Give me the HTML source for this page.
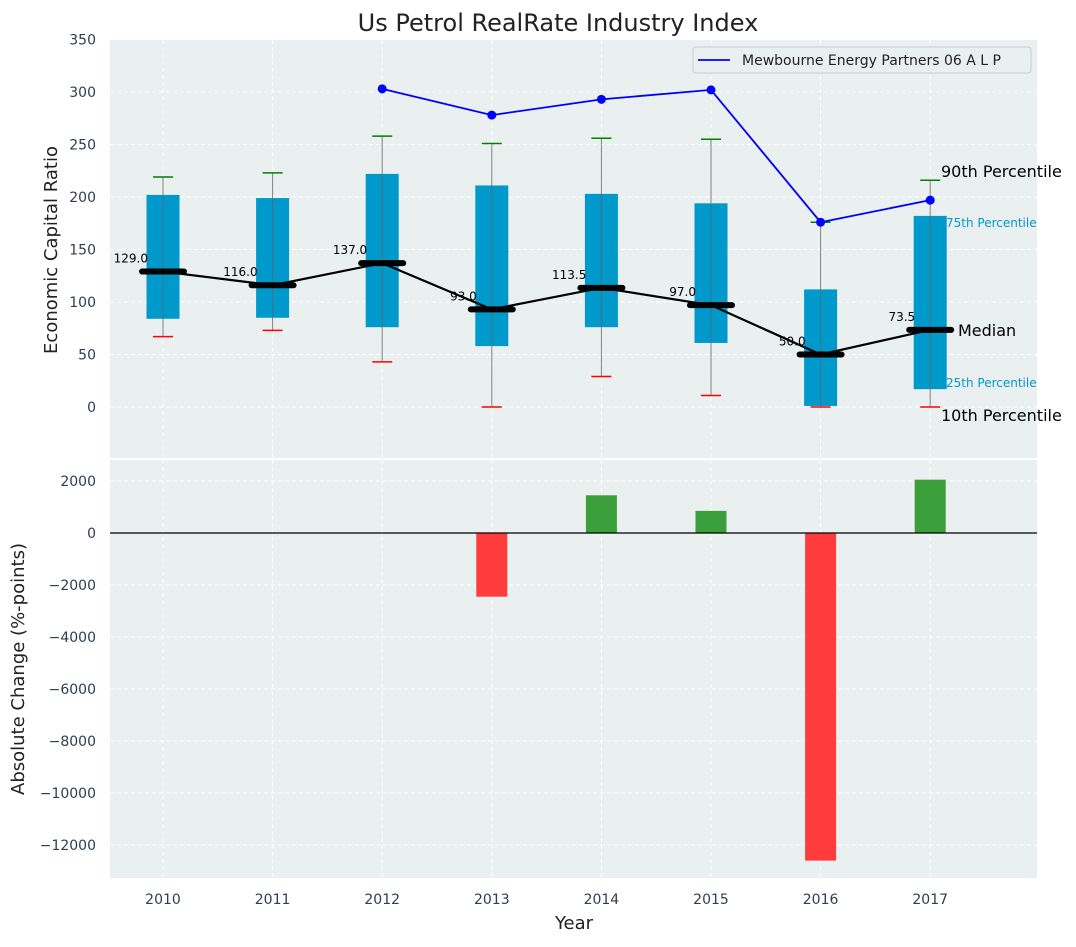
<!DOCTYPE html>
<html><head><meta charset="utf-8"><style>
body{margin:0;background:#fff;font-family:"Liberation Sans","DejaVu Sans",sans-serif}
svg text{font-family:"DejaVu Sans","Liberation Sans",sans-serif}
</style></head><body>
<svg id="c" width="1076" height="942"></svg>
<script>
const years=[2010,2011,2012,2013,2014,2015,2016,2017];
const p10=[67,73,43,0,29,11,0,0];
const q1=[84,85,76,58,76,61,1,17];
const med=[129,116,137,93,113.5,97,50,73.5];
const q3=[202,199,222,211,203,194,112,182];
const p90=[219,223,258,251,256,255,176,216];
const peerYears=[2012,2013,2014,2015,2016,2017];
const peerVals=[303,278,293,302,176,197];
const changeYears=[2013,2014,2015,2016,2017];
const changeVals=[-2450,1450,850,-12600,2050];
const topTicks=[0,50,100,150,200,250,300,350];
const botTicks=[2000,0,-2000,-4000,-6000,-8000,-10000,-12000];

const NS="http://www.w3.org/2000/svg";
const svg=document.getElementById('c');
function el(t,a,p){const e=document.createElementNS(NS,t);for(const k in a)e.setAttribute(k,a[k]);(p||svg).appendChild(e);return e;}
const X=y=>163+(y-2010)*109.6;
const Yt=v=>407-v*1.05;
const Yb=v=>533-v*0.026;
const L=110,R=1037;

let e;
e=el('rect',{x:L,y:40,width:R-L,height:418,fill:'#eaeff0'});

e=el('rect',{x:L,y:460,width:R-L,height:418,fill:'#eaeff0'});


years.forEach(y=>{
  el('line',{x1:X(y),x2:X(y),y1:40,y2:458,stroke:'#fff','stroke-dasharray':'4,3','stroke-width':1});
  el('line',{x1:X(y),x2:X(y),y1:460,y2:878,stroke:'#fff','stroke-dasharray':'4,3','stroke-width':1});
  e=el('text',{x:X(y),y:904,'text-anchor':'middle','font-size':14,fill:'#2d3e50'});e.textContent=y;
  
});
topTicks.forEach(v=>{
  el('line',{x1:L,x2:R,y1:Yt(v),y2:Yt(v),stroke:'#fff','stroke-dasharray':'4,3'});
  e=el('text',{x:96,y:Yt(v)+5,'text-anchor':'end','font-size':14,fill:'#2d3e50'});e.textContent=v;
  
});
botTicks.forEach(v=>{
  el('line',{x1:L,x2:R,y1:Yb(v),y2:Yb(v),stroke:'#fff','stroke-dasharray':'4,3'});
  e=el('text',{x:96,y:Yb(v)+5,'text-anchor':'end','font-size':14,fill:'#2d3e50'});e.textContent=(v<0?'\u2212'+(-v):v);
  
});

years.forEach((y,i)=>{
  const x=X(y);
  e=el('rect',{x:x-16.5,y:Yt(q3[i]),width:33,height:Yt(q1[i])-Yt(q3[i]),fill:'#0099cc'});
  
  e=el('line',{x1:x,x2:x,y1:Yt(p10[i]),y2:Yt(p90[i]),stroke:'#666','stroke-width':1,opacity:0.8});
  
  el('line',{x1:x-10,x2:x+10,y1:Yt(p90[i]),y2:Yt(p90[i]),stroke:'green','stroke-width':1.5});
  el('line',{x1:x-10,x2:x+10,y1:Yt(p10[i]),y2:Yt(p10[i]),stroke:'red','stroke-width':1.5});
});
e=el('polyline',{points:years.map((y,i)=>X(y)+','+Yt(med[i])).join(' '),fill:'none',stroke:'#000','stroke-width':2.2});

years.forEach((y,i)=>{
  e=el('line',{x1:X(y)-21,x2:X(y)+21,y1:Yt(med[i]),y2:Yt(med[i]),stroke:'#000','stroke-width':6,'stroke-linecap':'round'});
  
  e=el('text',{x:X(y)-15,y:Yt(med[i])-9,'text-anchor':'end','font-size':12,fill:'#000'});e.textContent=med[i].toFixed(1);
  
});
e=el('polyline',{points:peerYears.map((y,i)=>X(y)+','+Yt(peerVals[i])).join(' '),fill:'none',stroke:'blue','stroke-width':1.8});

peerYears.forEach((y,i)=>{
  e=el('circle',{cx:X(y),cy:Yt(peerVals[i]),r:4.5,fill:'blue'});
  
});
const ann=[['90th Percentile',941,177,16,'#000'],['75th Percentile',946,227,12,'#0099cc'],['Median',958,336,16,'#000'],['25th Percentile',946,387,12,'#0099cc'],['10th Percentile',941,421,16,'#000']];
ann.forEach(a=>{e=el('text',{x:a[1],y:a[2],'font-size':a[3],fill:a[4]});e.textContent=a[0];
  });

e=el('rect',{x:693,y:47,width:338,height:26,fill:'#eaeff0',stroke:'#ccc',rx:3});

el('line',{x1:698,x2:730,y1:60,y2:60,stroke:'blue','stroke-width':1.8});
e=el('text',{x:742,y:65,'font-size':14,fill:'#222'});e.textContent='Mewbourne Energy Partners 06 A L P';


changeYears.forEach((y,i)=>{
  const v=changeVals[i];
  e=el('rect',{x:X(y)-15.5,y:Math.min(Yb(v),Yb(0)),width:31,height:Math.abs(Yb(v)-Yb(0)),fill:v<0?'#ff3b3b':'#3a9e3a'});
  
});
el('line',{x1:L,x2:R,y1:Yb(0),y2:Yb(0),stroke:'#000','stroke-width':1.2});

e=el('text',{x:558,y:31,'text-anchor':'middle','font-size':24,fill:'#222'});e.textContent='Us Petrol RealRate Industry Index';

e=el('text',{x:574,y:929,'text-anchor':'middle','font-size':18,fill:'#222'});e.textContent='Year';

e=el('text',{x:0,y:0,'text-anchor':'middle','font-size':18,fill:'#222',transform:'translate(57,250) rotate(-90)'});e.textContent='Economic Capital Ratio';

e=el('text',{x:0,y:0,'text-anchor':'middle','font-size':18,fill:'#222',transform:'translate(24,669) rotate(-90)'});e.textContent='Absolute Change (%-points)';

</script>
</body></html>
